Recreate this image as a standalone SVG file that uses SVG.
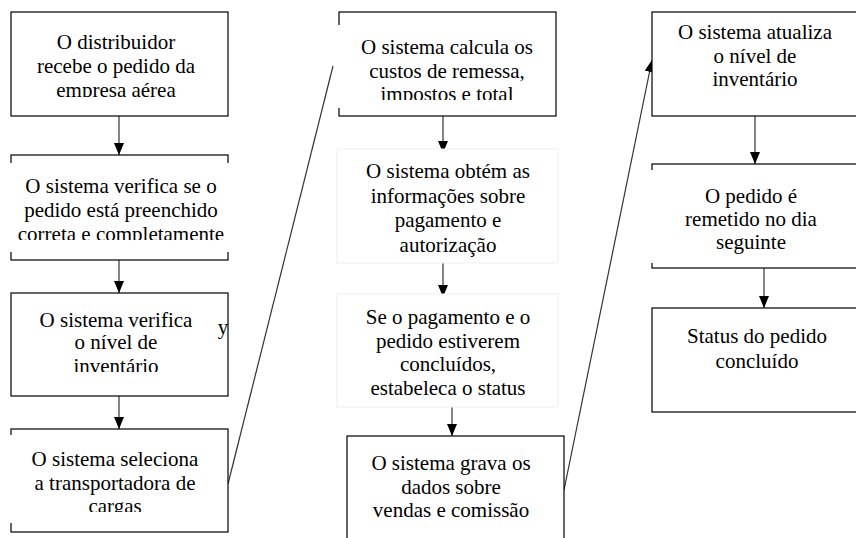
<svg xmlns="http://www.w3.org/2000/svg" width="856" height="538" viewBox="0 0 856 538">
<style>
.box{fill:#fff;stroke:#000;stroke-width:1.2}
.faint{fill:#fff;stroke:#efefef;stroke-width:1}
.wh{fill:#fff;stroke:none}
.t{font-family:'Liberation Serif','Times New Roman',serif;font-size:21px;fill:#000;text-anchor:middle}
.c{stroke:#333;stroke-width:1.2;fill:none}
</style>
<defs>
<marker id="ah" viewBox="0 0 12 10" refX="12" refY="5" markerWidth="12" markerHeight="10" markerUnits="userSpaceOnUse" orient="auto">
<path d="M0,0 L12,5 L0,10 z" fill="#000"/>
</marker>
<clipPath id="cl1"><rect x="0" y="0" width="240" height="97"/></clipPath>
<clipPath id="cl2"><rect x="0" y="160" width="240" height="80"/></clipPath>
<clipPath id="cl3"><rect x="0" y="300" width="240" height="72"/></clipPath>
<clipPath id="cl4"><rect x="0" y="440" width="240" height="72"/></clipPath>
<clipPath id="cl5"><rect x="330" y="0" width="240" height="100"/></clipPath>
</defs>

<g id="connectors">
<line class="c" x1="119" y1="116" x2="119" y2="155" marker-end="url(#ah)"/>
<line class="c" x1="119" y1="260" x2="119" y2="293" marker-end="url(#ah)"/>
<line class="c" x1="119" y1="396" x2="119" y2="429" marker-end="url(#ah)"/>
<line class="c" x1="228" y1="484" x2="333" y2="66"/>
<line class="c" x1="443" y1="116" x2="443" y2="153" marker-end="url(#ah)"/>
<line class="c" x1="443" y1="263" x2="443" y2="297" marker-end="url(#ah)"/>
<line class="c" x1="452" y1="407" x2="452" y2="436" marker-end="url(#ah)"/>
<line class="c" x1="564" y1="490" x2="652" y2="60" marker-end="url(#ah)"/>
<line class="c" x1="755" y1="116" x2="755" y2="164" marker-end="url(#ah)"/>
<line class="c" x1="764" y1="268" x2="764" y2="308" marker-end="url(#ah)"/>
</g>

<g id="n1">
<rect class="box" x="11" y="12" width="217" height="104"/>
<g clip-path="url(#cl1)">
<text class="t" x="116" y="49">O distribuidor</text>
<text class="t" x="116" y="73">recebe o pedido da</text>
<text class="t" x="116" y="97">empresa aérea</text>
</g>
</g>

<g id="n2">
<rect class="box" x="11" y="155" width="217" height="105"/>
<rect class="wh" x="8" y="163" width="223" height="89"/>
<g clip-path="url(#cl2)">
<text class="t" x="121" y="193">O sistema verifica se o</text>
<text class="t" x="121" y="217">pedido está preenchido</text>
<text class="t" x="121" y="241">correta e completamente</text>
</g>
</g>

<g id="n3">
<rect class="box" x="11" y="293" width="217" height="103"/>
<g clip-path="url(#cl3)">
<text class="t" x="116" y="327">O sistema verifica</text>
<text class="t" x="116" y="349">o nível de</text>
<text class="t" x="116" y="373">inventário</text>
</g>
<text class="t" x="223" y="334">y</text>
</g>

<g id="n4">
<rect class="box" x="11" y="429" width="217" height="103"/>
<rect class="wh" x="8" y="435" width="219" height="88"/>
<g clip-path="url(#cl4)">
<text class="t" x="115" y="466">O sistema seleciona</text>
<text class="t" x="115" y="490">a transportadora de</text>
<text class="t" x="115" y="513">cargas</text>
</g>
</g>

<g id="n5">
<rect class="box" x="339" y="12" width="217" height="104"/>
<rect class="wh" x="336" y="25" width="219" height="83"/>
<g clip-path="url(#cl5)">
<text class="t" x="447" y="54">O sistema calcula os</text>
<text class="t" x="447" y="78">custos de remessa,</text>
<text class="t" x="447" y="101">impostos e total</text>
</g>
</g>

<g id="n6">
<rect class="faint" x="337" y="149" width="221" height="114"/>
<text class="t" x="448" y="178">O sistema obtém as</text>
<text class="t" x="448" y="203">informações sobre</text>
<text class="t" x="448" y="227">pagamento e</text>
<text class="t" x="448" y="252">autorização</text>
</g>

<g id="n7">
<rect class="faint" x="337" y="294" width="221" height="113"/>
<text class="t" x="448" y="324">Se o pagamento e o</text>
<text class="t" x="448" y="348">pedido estiverem</text>
<text class="t" x="448" y="371">concluídos,</text>
<text class="t" x="448" y="395">estabeleca o status</text>
</g>

<g id="n8">
<rect class="box" x="347" y="436" width="217" height="110"/>
<text class="t" x="451" y="470">O sistema grava os</text>
<text class="t" x="451" y="494">dados sobre</text>
<text class="t" x="451" y="517">vendas e comissão</text>
</g>

<g id="n9">
<rect class="box" x="652" y="12" width="220" height="104"/>
<text class="t" x="755" y="39">O sistema atualiza</text>
<text class="t" x="755" y="63">o nível de</text>
<text class="t" x="755" y="86">inventário</text>
</g>

<g id="n10">
<rect class="box" x="652" y="164" width="220" height="104"/>
<rect class="wh" x="649" y="170" width="220" height="93"/>
<text class="t" x="751" y="203">O pedido é</text>
<text class="t" x="751" y="226">remetido no dia</text>
<text class="t" x="751" y="249">seguinte</text>
</g>

<g id="n11">
<rect class="box" x="652" y="308" width="220" height="104"/>
<text class="t" x="757" y="343">Status do pedido</text>
<text class="t" x="757" y="368">concluído</text>
</g>
</svg>
